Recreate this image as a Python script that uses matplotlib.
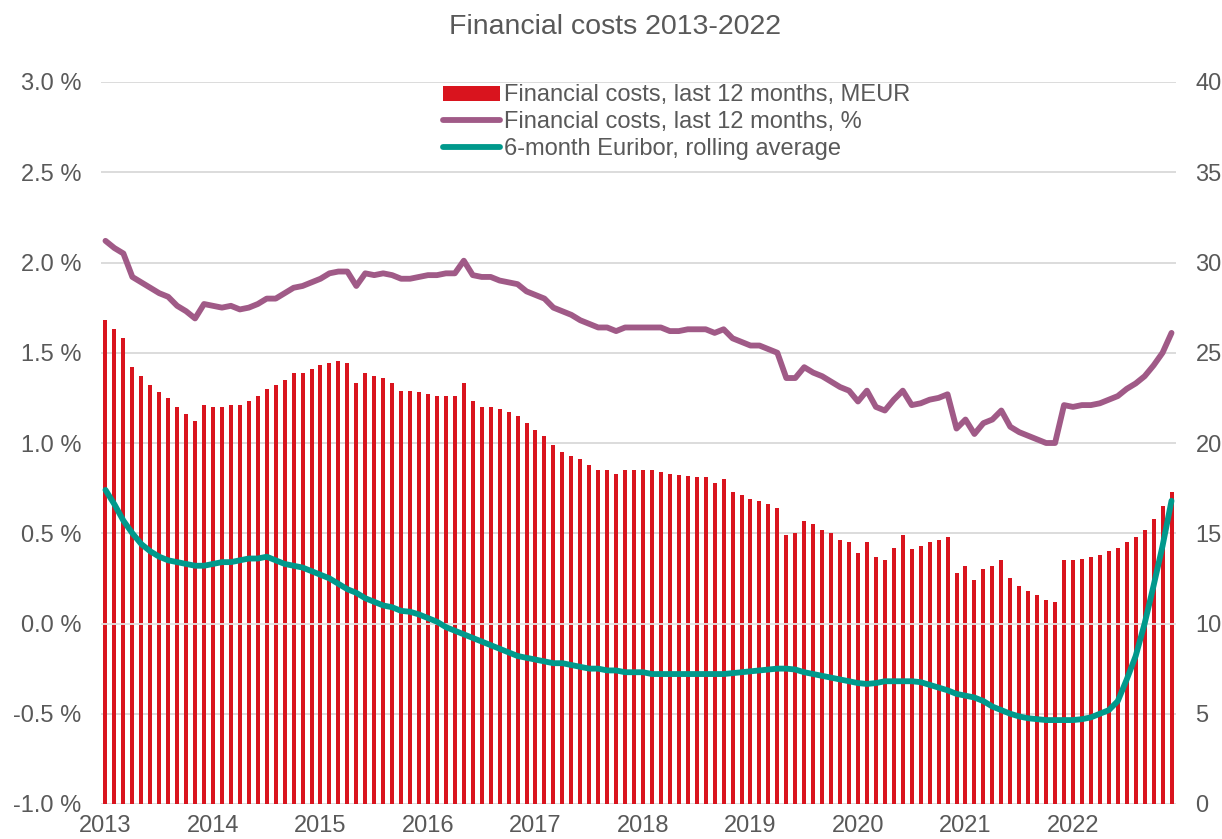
import numpy as np
import matplotlib
matplotlib.use("Agg")
import matplotlib.pyplot as plt
from matplotlib.patches import Patch
from matplotlib.lines import Line2D

plt.rcParams['font.family'] = ['Liberation Sans', 'DejaVu Sans']

# monthly data Jan 2013 .. Dec 2022
years = [str(y) for y in range(2013, 2023)]

costs_meur = [
    26.8, 26.3, 25.8, 24.2, 23.7, 23.2, 22.8, 22.5, 22.0, 21.6, 21.2, 22.1,
    22.0, 22.0, 22.1, 22.1, 22.3, 22.6, 23.0, 23.2, 23.5, 23.9, 23.9, 24.1,
    24.3, 24.45, 24.55, 24.45, 23.3, 23.9, 23.7, 23.6, 23.3, 22.9, 22.9, 22.8,
    22.7, 22.6, 22.6, 22.6, 23.3, 22.3, 22.0, 22.0, 21.9, 21.7, 21.5, 21.1,
    20.7, 20.4, 19.9, 19.5, 19.3, 19.1, 18.8, 18.5, 18.5, 18.3, 18.5, 18.5,
    18.5, 18.5, 18.4, 18.3, 18.2, 18.15, 18.1, 18.1, 17.8, 18.0, 17.3, 17.1,
    16.9, 16.8, 16.6, 16.4, 14.9, 15.0, 15.7, 15.5, 15.2, 15.0, 14.6, 14.5,
    13.9, 14.5, 13.7, 13.5, 14.2, 14.9, 14.1, 14.3, 14.5, 14.6, 14.8, 12.8,
    13.2, 12.4, 13.0, 13.2, 13.5, 12.5, 12.1, 11.8, 11.6, 11.3, 11.2, 13.5,
    13.5, 13.6, 13.7, 13.8, 14.0, 14.2, 14.5, 14.8, 15.2, 15.8, 16.5, 17.3,
]

costs_pct = [
    2.12, 2.08, 2.05, 1.92, 1.89, 1.86, 1.83, 1.81, 1.76, 1.73, 1.69, 1.77,
    1.76, 1.75, 1.76, 1.74, 1.75, 1.77, 1.80, 1.80, 1.83, 1.86, 1.87, 1.89,
    1.91, 1.94, 1.95, 1.95, 1.87, 1.94, 1.93, 1.94, 1.93, 1.91, 1.91, 1.92,
    1.93, 1.93, 1.94, 1.94, 2.01, 1.93, 1.92, 1.92, 1.90, 1.89, 1.88, 1.84,
    1.82, 1.80, 1.75, 1.73, 1.71, 1.68, 1.66, 1.64, 1.64, 1.62, 1.64, 1.64,
    1.64, 1.64, 1.64, 1.62, 1.62, 1.63, 1.63, 1.63, 1.61, 1.63, 1.58, 1.56,
    1.54, 1.54, 1.52, 1.50, 1.36, 1.36, 1.42, 1.39, 1.37, 1.34, 1.31, 1.29,
    1.23, 1.29, 1.20, 1.18, 1.24, 1.29, 1.21, 1.22, 1.24, 1.25, 1.27, 1.08,
    1.13, 1.05, 1.11, 1.13, 1.18, 1.09, 1.06, 1.04, 1.02, 1.00, 1.00, 1.21,
    1.20, 1.21, 1.21, 1.22, 1.24, 1.26, 1.30, 1.33, 1.37, 1.43, 1.50, 1.61,
]

euribor = [
    0.74, 0.66, 0.57, 0.50, 0.44, 0.40, 0.37, 0.35, 0.34, 0.33, 0.32, 0.32,
    0.33, 0.34, 0.34, 0.35, 0.36, 0.36, 0.37, 0.35, 0.33, 0.32, 0.31, 0.29,
    0.27, 0.25, 0.22, 0.19, 0.17, 0.14, 0.12, 0.10, 0.09, 0.07, 0.065, 0.05,
    0.03, 0.01, -0.02, -0.04, -0.06, -0.08, -0.10, -0.12, -0.14, -0.16, -0.18, -0.19,
    -0.20, -0.21, -0.22, -0.22, -0.23, -0.24, -0.25, -0.25, -0.26, -0.26, -0.27, -0.27,
    -0.27, -0.28, -0.28, -0.28, -0.28, -0.28, -0.28, -0.28, -0.28, -0.28, -0.275, -0.27,
    -0.265, -0.26, -0.255, -0.25, -0.25, -0.255, -0.27, -0.28, -0.29, -0.30, -0.31, -0.32,
    -0.33, -0.335, -0.33, -0.32, -0.32, -0.32, -0.32, -0.325, -0.34, -0.355, -0.37, -0.39,
    -0.40, -0.41, -0.43, -0.46, -0.48, -0.50, -0.515, -0.525, -0.53, -0.535, -0.535, -0.535,
    -0.535, -0.53, -0.52, -0.50, -0.48, -0.43, -0.31, -0.18, 0.0, 0.21, 0.43, 0.68,
]

red = '#D9141E'
purple = '#A05A87'
teal = '#00998C'
grey_txt = '#595959'
grid_c = '#D9D9D9'

x = np.arange(len(costs_meur))

fig = plt.figure(figsize=(12.22, 8.39), dpi=100)
ax = fig.add_axes([101 / 1222, 1 - 804 / 839, 1075 / 1222, 722 / 839])

# bars on the MEUR scale (shown on the right)
ax.bar(x, costs_meur, width=0.45, color=red, zorder=2)
ax.set_ylim(0, 40)
ax.set_yticks(range(0, 41, 5))
ax.set_xlim(-0.5, len(x) - 0.5)
ax.set_xticks(range(0, 120, 12))
ax.set_xticklabels(years)
ax.grid(axis='y', color=grid_c, lw=1.3)
ax.set_axisbelow(True)

# lines on the % scale (shown on the left)
ax2 = ax.twinx()
ax.yaxis.tick_right()
ax2.yaxis.tick_left()
ax.tick_params(axis='both', length=0, labelsize=17, colors=grey_txt)
ax.tick_params(axis='y', pad=14)
ax.tick_params(axis='x', pad=8)
ax2.set_ylim(-1.0, 3.0)
ax2.set_yticks(np.arange(-1.0, 3.01, 0.5))
ax2.set_yticklabels([f'{v:.1f} %' for v in np.arange(-1.0, 3.01, 0.5)])
ax2.tick_params(axis='y', length=0, labelsize=17, colors=grey_txt, pad=14)
ax2.axhline(0, color='#E4E4E4', lw=1.3, zorder=1)
ax2.plot(x, costs_pct, color=purple, lw=4.2, solid_capstyle='round', zorder=3)
ax2.plot(x, euribor, color=teal, lw=4.2, solid_capstyle='round', zorder=4)

for a in (ax, ax2):
    for s in a.spines.values():
        s.set_visible(False)

handles = [
    Patch(facecolor=red, edgecolor='none'),
    Line2D([], [], color=purple, lw=4.2, solid_capstyle='round'),
    Line2D([], [], color=teal, lw=4.2, solid_capstyle='round'),
]
labels = [
    'Financial costs, last 12 months, MEUR',
    'Financial costs, last 12 months, %',
    '6-month Euribor, rolling average',
]
leg = ax2.legend(handles, labels, loc='upper left', bbox_to_anchor=(0.316, 1.0),
                 frameon=False, fontsize=17, handlelength=2.4, handleheight=0.6,
                 handletextpad=0.2, labelspacing=0.2, borderpad=0.1, borderaxespad=0)
for t in leg.get_texts():
    t.set_color(grey_txt)

fig.text(0.503, 0.968, 'Financial costs 2013-2022', ha='center', va='center',
         fontsize=20.5, color=grey_txt)

fig.savefig('out.png', dpi=100)
